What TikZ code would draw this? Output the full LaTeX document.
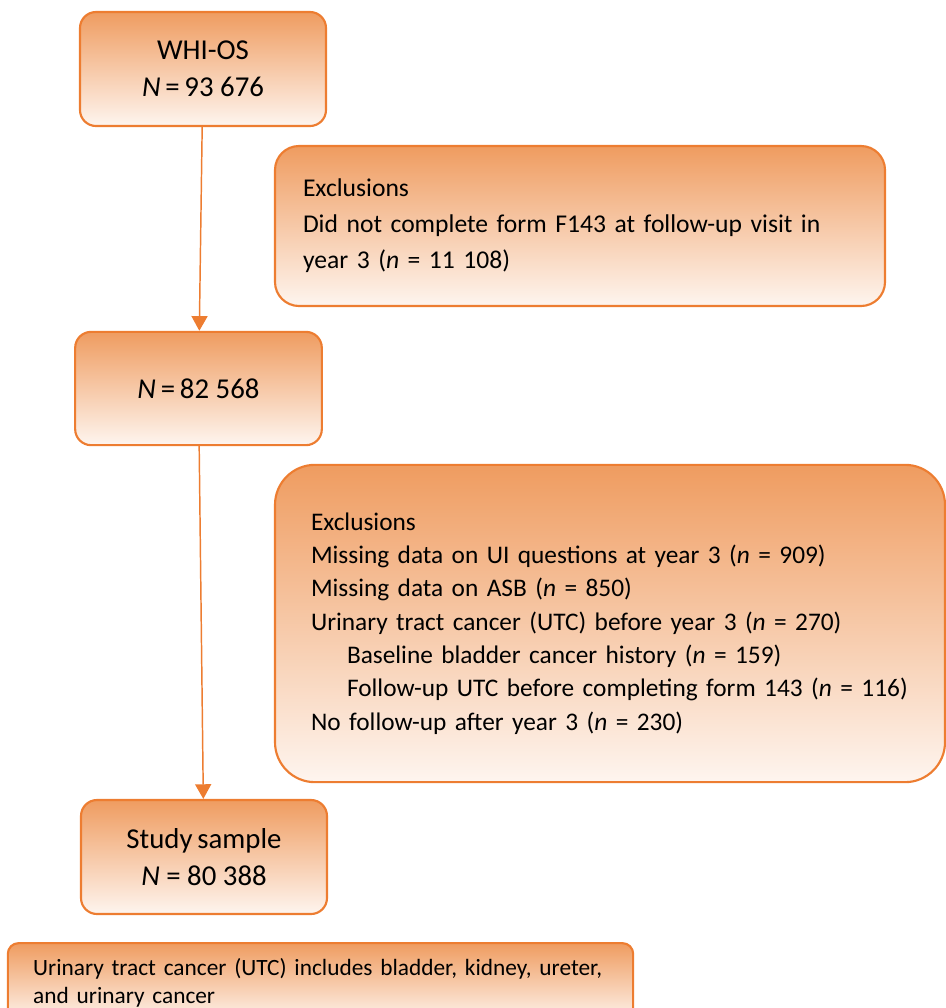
\documentclass[tikz,border=0pt]{standalone}
\usepackage{fontspec}
\setmainfont{Carlito}
\usetikzlibrary{arrows.meta}
\definecolor{boxline}{RGB}{237,125,49}
\definecolor{boxtop}{RGB}{239,156,96}
\definecolor{boxbottom}{RGB}{254,245,239}

\begin{document}
\begin{tikzpicture}[x=0.75pt, y=-0.75pt,
    box/.style = {draw=boxline, line width=1.6pt, rounded corners=12pt, top color=boxtop, bottom color=boxbottom, align=center, font=\fontsize{21.6}{28}\selectfont},
    exclbox/.style = {box, align=left, inner ysep=0pt},
    arrow/.style = {draw=boxline, line width=1.1pt, -{Triangle[length=11pt,width=12pt]}}]
    \useasboundingbox (0,0) rectangle (946,1008);
    \node[box, minimum width=184.5pt, minimum height=85.5pt] (whi) at (203,69) {WHI-OS\\\textit{N}\,=\,93 676};
    \node[exclbox, rounded corners=18pt, minimum width=457.5pt, minimum height=120pt, inner xsep=21pt, text width=415.5pt, font=\fontsize{19.2}{27}\selectfont] (excl1) at (580,226)
        {Exclusions\\Did not complete form F143 at follow-up visit in\\year 3 (\textit{n} = 11 108)};
    \node[box, minimum width=185pt, minimum height=85pt] (n2) at (198.5,388.5) {\textit{N}\,=\,82 568};
    \node[exclbox, rounded corners=30pt, minimum width=502.5pt, minimum height=238pt, inner xsep=27pt, text width=448.5pt, font=\fontsize{19}{25}\selectfont] (excl2) at (610,623.5)
        {Exclusions\\
         Missing data on UI questions at year 3 (\textit{n} = 909)\\
         Missing data on ASB (\textit{n} = 850)\\
         Urinary tract cancer (UTC) before year 3 (\textit{n} = 270)\\
         \hspace*{27pt}Baseline bladder cancer history (\textit{n} = 159)\\
         \hspace*{27pt}Follow-up UTC before completing form 143 (\textit{n} = 116)\\
         No follow-up after year 3 (\textit{n} = 230)};
    \node[box, minimum width=184.5pt, minimum height=85.5pt] (study) at (204,857) {Study\,sample\\\textit{N} = 80 388};
    \node[exclbox, rounded corners=8pt, minimum width=469pt, minimum height=59pt, inner xsep=19pt, text width=431pt, font=\fontsize{17.5}{21}\selectfont] (note) at (320.5,982.5)
        {Urinary tract cancer (UTC) includes bladder, kidney, ureter,\\and urinary cancer};
    \draw[arrow] (whi) -- (n2);
    \draw[arrow] (n2) -- (study);
\end{tikzpicture}
\end{document}
